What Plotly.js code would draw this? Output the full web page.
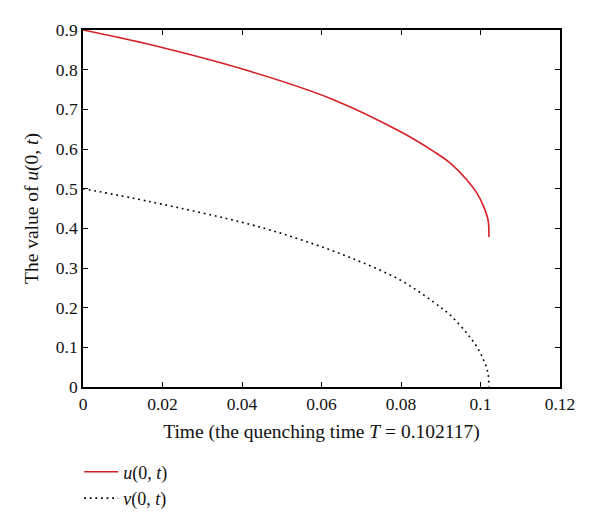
<!DOCTYPE html>
<html>
<head>
<meta charset="utf-8">
<script src="https://cdn.plot.ly/plotly-3.0.1.min.js"></script>
<style>
  body { margin: 0; background: #fff; }
  #plotArea { width: 600px; height: 528px; }
</style>
</head>
<body>
<div id="plotArea"></div>
<script>
// u(0,t)
var uTime = [0, 0.0168, 0.042, 0.063, 0.0798, 0.0882, 0.0924, 0.0966, 0.0991, 0.1008, 0.1019, 0.102117];
var uValue = [0.9, 0.8633, 0.7959, 0.7244, 0.644, 0.594, 0.5644, 0.522, 0.4886, 0.4548, 0.421, 0.378];

// v(0,t)
var vTime = [0, 0.0168, 0.042, 0.0546, 0.0672, 0.0798, 0.0882, 0.0924, 0.0966, 0.0991, 0.1008, 0.1019, 0.102117];
var vValue = [0.5, 0.4674, 0.410, 0.372, 0.3264, 0.2696, 0.214, 0.181, 0.135, 0.101, 0.0675, 0.034, 0];

var xTicks = [0, 0.02, 0.04, 0.06, 0.08, 0.1, 0.12];
var xTickText = ["0", "0.02", "0.04", "0.06", "0.08", "0.1", "0.12"];
var yTicks = [0, 0.1, 0.2, 0.3, 0.4, 0.5, 0.6, 0.7, 0.8, 0.9];
var yTickText = ["0", "0.1", "0.2", "0.3", "0.4", "0.5", "0.6", "0.7", "0.8", "0.9"];

var serif = "Liberation Serif, Times New Roman, serif";

var uTrace = {
    x: uTime,
    y: uValue,
    name: "<i>u</i>(0, <i>t</i>)",
    mode: "lines",
    line: {color: "#d41f26", width: 1.6, shape: "spline", smoothing: 1}
};

var vTrace = {
    x: vTime,
    y: vValue,
    name: "<i>v</i>(0, <i>t</i>)",
    mode: "lines",
    line: {color: "#000000", width: 1.6, dash: "1.8px,3.8px", shape: "spline", smoothing: 1}
};

var layout = {
    width: 600,
    height: 528,
    margin: {l: 83, r: 40, t: 30, b: 141},
    paper_bgcolor: "#fff",
    plot_bgcolor: "#fff",
    font: {family: serif, size: 17, color: "#111"},
    showlegend: true,
    legend: {
        x: -0.008, xanchor: "left",
        yref: "container",
        y: 0.141, yanchor: "top",
        font: {family: serif, size: 18},
        itemwidth: 34,
        bgcolor: "rgba(0,0,0,0)",
        tracegroupgap: 0
    },
    xaxis: {
        range: [0, 0.12],
        tickvals: xTicks,
        ticktext: xTickText,
        ticks: "inside",
        ticklen: 5,
        tickwidth: 1.3,
        tickcolor: "#000",
        tickfont: {size: 17.5},
        showline: true,
        linecolor: "#000",
        linewidth: 1.6,
        mirror: "ticks",
        showgrid: false,
        zeroline: false,
        automargin: false,
        title: {text: "Time (the quenching time <i>T</i> = 0.102117)", standoff: 12, font: {size: 19.5}}
    },
    yaxis: {
        range: [0, 0.9],
        tickvals: yTicks,
        ticktext: yTickText,
        ticks: "inside",
        ticklen: 5,
        tickwidth: 1.3,
        tickcolor: "#000",
        tickfont: {size: 17.5},
        showline: true,
        linecolor: "#000",
        linewidth: 1.6,
        mirror: "ticks",
        showgrid: false,
        zeroline: false,
        automargin: false,
        title: {text: "The value of <i>u</i>(0, <i>t</i>)", standoff: 12, font: {size: 19.5}}
    }
};

Plotly.newPlot("plotArea", [uTrace, vTrace], layout, {displayModeBar: false});
</script>
</body>
</html>
